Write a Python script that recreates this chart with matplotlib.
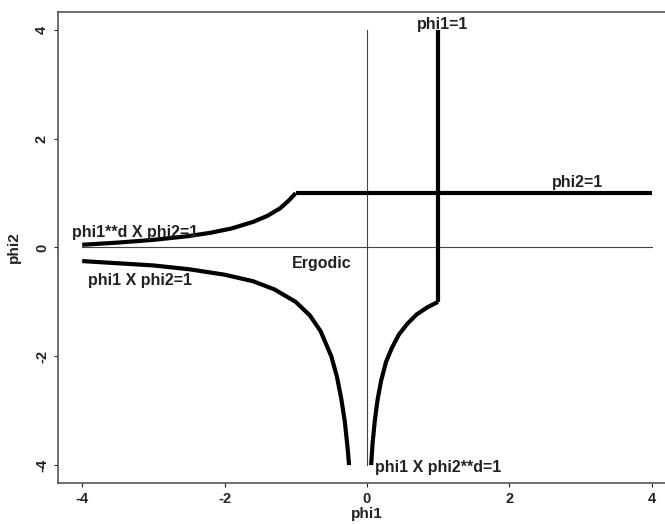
import matplotlib
matplotlib.use("Agg")
import matplotlib.pyplot as plt

plt.rcParams["font.family"] = ["Liberation Sans", "DejaVu Sans"]

# boundary pieces
upper_x = [-4.0, -3.5, -3.0, -2.5, -2.2, -1.9, -1.6, -1.4, -1.22, -1.1, -1.0]
upper_y = [0.05, 0.09, 0.14, 0.21, 0.27, 0.35, 0.47, 0.58, 0.72, 0.86, 1.0]

flat_x = [-1.0, 4.0]
flat_y = [1.0, 1.0]

lower_x = [-4.0, -3.5, -3.0, -2.5, -2.0, -1.6, -1.3, -1.0, -0.8, -0.65, -0.5, -0.42, -0.36, -0.31, -0.27, -0.25]
lower_y = [-0.25, -0.29, -0.33, -0.4, -0.5, -0.62, -0.77, -1.0, -1.25, -1.54, -2.0, -2.38, -2.78, -3.2, -3.7, -4.0]

right_x = [0.06, 0.08, 0.11, 0.15, 0.2, 0.27, 0.35, 0.45, 0.57, 0.7, 0.85, 1.0]
right_y = [-4.0, -3.6, -3.2, -2.8, -2.45, -2.1, -1.85, -1.6, -1.4, -1.23, -1.1, -1.0]

vert_x = [1.0, 1.0]
vert_y = [-1.0, 4.0]

fig = plt.figure(figsize=(6.65, 5.24), dpi=100)
ax = fig.add_axes([0.0872, 0.0782, 0.929, 0.899])

thin = dict(color="#444444", lw=0.8)
ax.plot([0, 0], [-4, 4], **thin)
ax.plot([-4, 4], [0, 0], **thin)

thick = dict(color="black", lw=3.0, solid_capstyle="butt")
ax.plot(upper_x, upper_y, **thick)
ax.plot(flat_x, flat_y, **thick)
ax.plot(lower_x, lower_y, **thick)
ax.plot(right_x, right_y, **thick)
ax.plot(vert_x, vert_y, **thick)

ax.set_xlim(-4.34, 4.34)
ax.set_ylim(-4.33, 4.33)
ax.set_xticks([-4, -2, 0, 2, 4])
ax.set_yticks([-4, -2, 0, 2, 4])
ax.set_xticklabels(["-4", "-2", "0", "2", "4"], fontweight="bold")
ax.set_yticklabels(["-4", "-2", "0", "2", "4"], rotation=90, va="center", fontweight="bold")
ax.tick_params(direction="out", length=3, width=0.8, labelsize=10.5, colors="#222222")

for s in ax.spines.values():
    s.set_color("#555555")
    s.set_linewidth(1.2)

ax.set_xlabel("phi1", fontsize=11, fontweight="bold", labelpad=1, color="#222222")
ax.set_ylabel("phi2", fontsize=11, fontweight="bold", labelpad=10, color="#222222")

fs = 11.5
tk = dict(fontsize=fs, fontweight="bold", color="#222222", va="center")
ax.text(1.07, 4.1, "phi1=1", ha="center", **tk)
ax.text(2.96, 1.2, "phi2=1", ha="center", **tk)
ax.text(-4.14, 0.27, "phi1**d X phi2=1", ha="left", **tk)
ax.text(-3.92, -0.6, "phi1 X phi2=1", ha="left", **tk)
ax.text(-1.05, -0.3, "Ergodic", ha="left", **tk)
ax.text(0.11, -4.05, "phi1 X phi2**d=1", ha="left", **tk)

fig.savefig("out.png", dpi=100)
